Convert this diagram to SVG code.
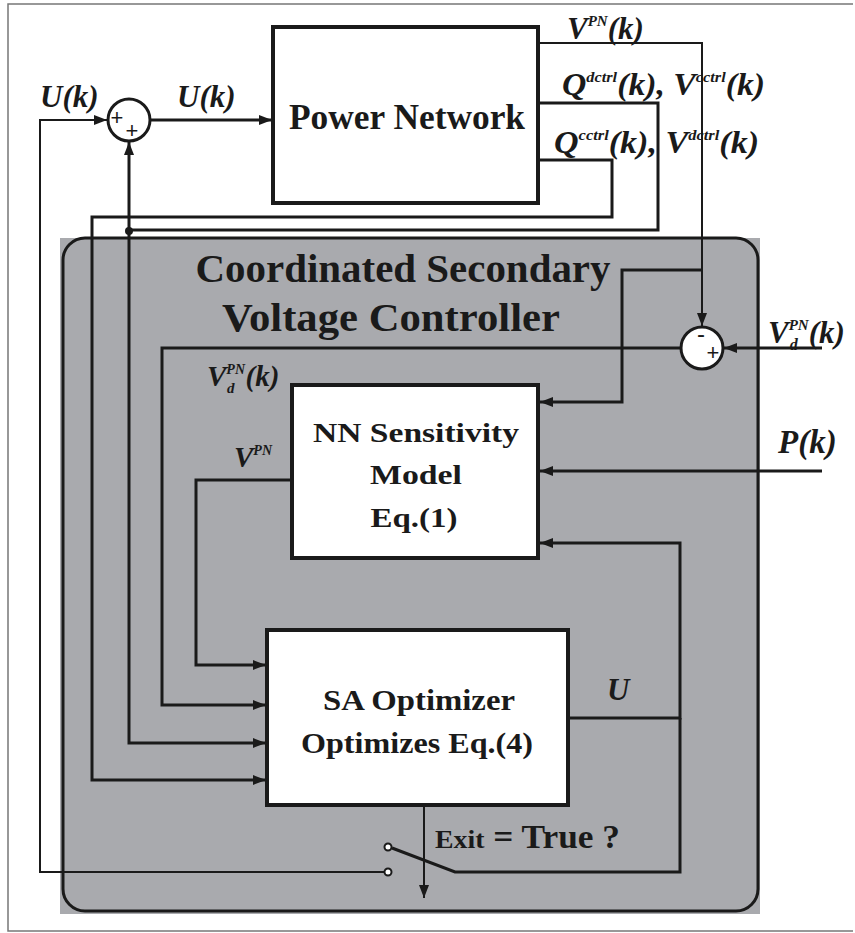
<svg xmlns="http://www.w3.org/2000/svg" width="855" height="933" viewBox="0 0 855 933">
<style>
.ln{fill:none;stroke:#1a1a1a;stroke-width:3}
.thin{fill:none;stroke:#1a1a1a;stroke-width:2}
.box{fill:#fff;stroke:#1a1a1a;stroke-width:4}
.t{font-family:"Liberation Serif","Times New Roman",serif;font-weight:bold;fill:#1a1a1a}
.i{font-family:"Liberation Serif","Times New Roman",serif;font-weight:bold;font-style:italic;fill:#1a1a1a}
.sg{font-family:"Liberation Sans",Arial,sans-serif;fill:#1a1a1a}
</style>
<defs>
<marker id="ar" markerUnits="userSpaceOnUse" markerWidth="14" markerHeight="11" refX="13" refY="5" orient="auto">
<path d="M0,0 L13,5 L0,10 z" fill="#1a1a1a"/>
</marker>
</defs>
<rect width="855" height="933" fill="#fff"/>
<path d="M853,4 H8 V931 H853" fill="none" stroke="#777" stroke-width="1.5"/>

<g id="controller">
<rect x="60" y="238" width="700" height="676" fill="#a9aaae"/>
<rect x="63" y="238" width="695" height="673" rx="22" ry="22" fill="none" stroke="#1a1a1a" stroke-width="3"/>
<text class="t" x="403" y="282" font-size="40" text-anchor="middle" textLength="415" lengthAdjust="spacingAndGlyphs">Coordinated Secondary</text>
<text class="t" x="391" y="331" font-size="40" text-anchor="middle" textLength="338" lengthAdjust="spacingAndGlyphs">Voltage Controller</text>
</g>

<g id="connectors">
<path class="thin" d="M385,872 H40 V120 H107" marker-end="url(#ar)"/>
<path class="ln" d="M150,120 H272" marker-end="url(#ar)"/>
<path class="ln" d="M129,231 V142" marker-end="url(#ar)"/>
<path class="ln" d="M129,231 V743 H266" marker-end="url(#ar)"/>
<path class="ln" d="M538,103 H658 V230 H129"/>
<circle cx="129" cy="231" r="4" fill="#1a1a1a"/>
<path class="ln" d="M538,160 H612 V217 H92 V780 H266" marker-end="url(#ar)"/>
<path class="thin" d="M538,43 H702 V326" marker-end="url(#ar)"/>
<path class="ln" d="M702,270 H622 V402 H540" marker-end="url(#ar)"/>
<path class="ln" d="M822,348 H724" marker-end="url(#ar)"/>
<path class="ln" d="M680,348 H162 V705 H266" marker-end="url(#ar)"/>
<path class="ln" d="M822,471 H540" marker-end="url(#ar)"/>
<path class="ln" d="M292,480 H196 V665 H266" marker-end="url(#ar)"/>
<path class="ln" d="M568,718 H680 V543 H540" marker-end="url(#ar)"/>
<path class="ln" d="M680,718 V872 H455 L392,848"/>
<path class="thin" d="M424,805 V898" marker-end="url(#ar)"/>
</g>

<g id="switch">
<circle cx="388" cy="847" r="3.5" fill="#fff" stroke="#1a1a1a" stroke-width="2"/>
<circle cx="388" cy="872" r="3.5" fill="#fff" stroke="#1a1a1a" stroke-width="2"/>
<text class="t" x="435" y="848" font-size="26" textLength="185" lengthAdjust="spacingAndGlyphs">Exit<tspan font-size="33"> = True ?</tspan></text>
</g>

<g id="sum1">
<circle cx="129" cy="120" r="21" fill="#fff" stroke="#1a1a1a" stroke-width="3"/>
<text class="sg" x="117" y="125" font-size="22" text-anchor="middle">+</text>
<text class="sg" x="132" y="138" font-size="22" text-anchor="middle">+</text>
</g>

<g id="sum2">
<circle cx="702" cy="348" r="21" fill="#fff" stroke="#1a1a1a" stroke-width="3"/>
<text class="sg" x="701" y="342" font-size="24" text-anchor="middle">-</text>
<text class="sg" x="713" y="360" font-size="22" text-anchor="middle">+</text>
</g>

<g id="power-network">
<rect class="box" x="273" y="27" width="265" height="176"/>
<text class="t" x="407" y="129" font-size="35" text-anchor="middle" textLength="236" lengthAdjust="spacingAndGlyphs">Power Network</text>
</g>

<g id="nn-model">
<rect class="box" x="292" y="385" width="246" height="173"/>
<text class="t" x="416" y="442" font-size="28" text-anchor="middle" textLength="206" lengthAdjust="spacingAndGlyphs">NN Sensitivity</text>
<text class="t" x="416" y="484" font-size="28" text-anchor="middle" textLength="92" lengthAdjust="spacingAndGlyphs">Model</text>
<text class="t" x="414" y="527" font-size="28" text-anchor="middle" textLength="87" lengthAdjust="spacingAndGlyphs">Eq.(1)</text>
</g>

<g id="sa-optimizer">
<rect class="box" x="267" y="630" width="301" height="175"/>
<text class="t" x="419" y="710" font-size="29" text-anchor="middle" textLength="192" lengthAdjust="spacingAndGlyphs">SA Optimizer</text>
<text class="t" x="417" y="753" font-size="29" text-anchor="middle" textLength="232" lengthAdjust="spacingAndGlyphs">Optimizes Eq.(4)</text>
</g>

<g id="labels">
<text class="i" x="40" y="107" font-size="31">U(k)</text>
<text class="i" x="177" y="107" font-size="31">U(k)</text>
<text class="i" x="567" y="39" font-size="31">V<tspan font-size="15" dy="-13">PN</tspan><tspan dy="13">(k)</tspan></text>
<text class="i" x="562" y="95" font-size="31" textLength="203" lengthAdjust="spacingAndGlyphs">Q<tspan font-size="15" dy="-13">dctrl</tspan><tspan dy="13">(k), V</tspan><tspan font-size="15" dy="-13">cctrl</tspan><tspan dy="13">(k)</tspan></text>
<text class="i" x="554" y="153" font-size="31" textLength="205" lengthAdjust="spacingAndGlyphs">Q<tspan font-size="15" dy="-13">cctrl</tspan><tspan dy="13">(k), V</tspan><tspan font-size="15" dy="-13">dctrl</tspan><tspan dy="13">(k)</tspan></text>
<text class="i" x="768" y="343" font-size="31">V<tspan font-size="15" dy="-13">PN</tspan><tspan font-size="16" dx="-19" dy="20">d</tspan><tspan dx="11" dy="-7">(k)</tspan></text>
<text class="i" x="778" y="453" font-size="33">P(k)</text>
<text class="i" x="207" y="386" font-size="29">V<tspan font-size="14" dy="-12">PN</tspan><tspan font-size="15" dx="-18" dy="19">d</tspan><tspan dx="11" dy="-7">(k)</tspan></text>
<text class="i" x="234" y="467" font-size="29">V<tspan font-size="14" dy="-12">PN</tspan></text>
<text class="i" x="607" y="700" font-size="31">U</text>
</g>
</svg>
